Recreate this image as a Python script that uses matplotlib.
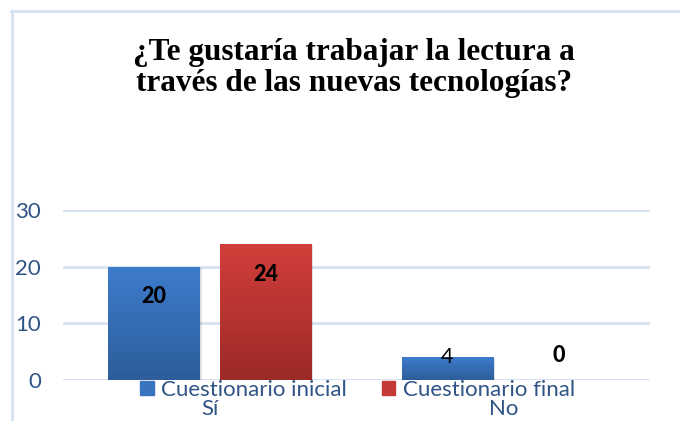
import matplotlib
matplotlib.use("Agg")
import matplotlib.pyplot as plt
import numpy as np
from matplotlib.colors import LinearSegmentedColormap
from matplotlib.patches import Rectangle

categories = ["Sí", "No"]
series_names = ["Cuestionario inicial", "Cuestionario final"]
inicial = [20, 4]
final = [24, 0]
yticks = [0, 10, 20, 30]
title = "¿Te gustaría trabajar la lectura a\ntravés de las nuevas tecnologías?"

fig = plt.figure(figsize=(6.8, 4.21), dpi=100)
ax = fig.add_axes([63/680, 1-380/421, (650-63)/680, (380-210)/421])

txt_color = "#2F5486"
grid_color = "#D6E2F1"
font = ["Lato", "DejaVu Sans"]

x = np.arange(len(categories))
w = 0.313
off = 0.19
grads = [("#3D7CCC", "#2D5D9A"), ("#D23E3A", "#9C2A27")]
legend_cols = ["#3A74BF", "#C63A35"]
handles = []
for i, (vals, (ctop, cbot)) in enumerate(zip([inicial, final], grads)):
    pos = x - off if i == 0 else x + off
    bars = ax.bar(pos, vals, width=w, color=legend_cols[i], zorder=3,
                  label=series_names[i], linewidth=0)
    cmap = LinearSegmentedColormap.from_list(f"g{i}", [cbot, ctop])
    for b, v in zip(bars, vals):
        if v <= 0:
            continue
        x0, y0 = b.get_x(), b.get_y()
        bw, bh = b.get_width(), b.get_height()
        sh = Rectangle((x0 + 0.006, y0 - 0.15), bw, bh, color="#000000",
                       alpha=0.12, zorder=2, linewidth=0)
        ax.add_patch(sh)
        grad = np.linspace(0, 1, 256).reshape(-1, 1)
        im = ax.imshow(grad, extent=[x0, x0 + bw, y0, y0 + bh], origin="lower",
                       cmap=cmap, aspect="auto", zorder=4)
        im.set_clip_path(b)
    handles.append(Rectangle((0, 0), 1, 1, color=legend_cols[i]))

lab_fs = 15.5
ax.text(x[0] - off, 20 - 5.3, "20", ha="center", va="center", fontsize=lab_fs,
        fontweight="black", color="black", zorder=6, family=font)
ax.text(x[0] + off, 24 - 5.3, "24", ha="center", va="center", fontsize=lab_fs,
        fontweight="black", color="black", zorder=6, family=font)
ax.text(x[1] - off, 4.1, "4", ha="center", va="center", fontsize=lab_fs,
        color="black", zorder=6, family=font)
ax.text(x[1] + off, 4.3, "0", ha="center", va="center", fontsize=lab_fs,
        fontweight="black", color="black", zorder=6, family=font)

ax.set_xlim(-0.5, 1.5)
ax.set_ylim(0, 30)
ax.set_yticks(yticks)
ax.set_xticks(x)
ax.set_xticklabels(categories)
for lab in ax.get_xticklabels() + ax.get_yticklabels():
    lab.set_family(font)
    lab.set_fontsize(16)
    lab.set_color(txt_color)
ax.tick_params(axis="both", length=0)
ax.tick_params(axis="y", pad=16)
ax.tick_params(axis="x", pad=14)
ax.grid(axis="y", color=grid_color, linewidth=2, zorder=0)
ax.set_axisbelow(True)
for s in ax.spines.values():
    s.set_visible(False)
ax.axhline(0, color=grid_color, linewidth=2, zorder=1)

leg = fig.legend(handles, series_names, loc="center", ncol=2,
                 bbox_to_anchor=(357.5/680, 1-390/421), frameon=False,
                 prop={"family": font, "size": 16}, handlelength=0.62,
                 handleheight=0.62, handletextpad=0.35, columnspacing=1.55,
                 borderpad=0)
for t in leg.get_texts():
    t.set_color(txt_color)

fig.text(354/680, 1-68/421, title, ha="center", va="center",
         fontsize=22.5, fontweight="bold", family=["Liberation Serif"],
         linespacing=1.12, color="black")

fig.add_artist(plt.Line2D([12/680, 12/680], [0, 1-11/421], color=grid_color,
                          linewidth=2, transform=fig.transFigure))
fig.add_artist(plt.Line2D([11/680, 1], [1-11/421, 1-11/421], color=grid_color,
                          linewidth=2, transform=fig.transFigure))

fig.savefig("out.png", dpi=100)
